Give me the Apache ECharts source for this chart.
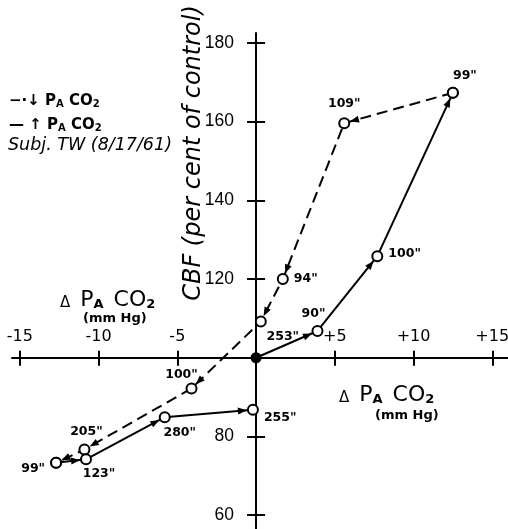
<!DOCTYPE html>
<html>
<head>
<meta charset="utf-8">
<script src="https://cdn.jsdelivr.net/npm/echarts@6/dist/echarts.min.js"></script>
<style>
html, body { margin: 0; padding: 0; background: #fff; }
#chart { width: 508px; height: 529px; }
</style>
</head>
<body>
<div id="chart"></div>
<script>
// rising PaCO2, first leg (from control point)
const upX1 = [0, 3.9, 7.7, 12.5];
const upY1 = [100, 106.8, 125.8, 167.3];
const upLab1 = ['', '90"', '100"', '99"'];

// falling PaCO2
const downX = [12.5, 5.6, 1.7, 0.3, -4.1, -10.9, -12.7];
const downY = [167.3, 159.6, 120, 109.2, 92.2, 76.7, 73.3];
const downLab = ['', '109"', '94"', '253"', '100"', '205"', '99"'];

// rising PaCO2, second leg
const upX2 = [-12.7, -10.8, -5.8, -0.2];
const upY2 = [73.3, 74.2, 84.9, 86.8];
const upLab2 = ['', '123"', '280"', '255"'];

// axis ticks / labels
const xTicks = [-15, -10, -5, 0, 5, 10, 15];
const xTickLabels = [-15, -10, -5, 5, 10, 15];
const yTicks = [60, 80, 100, 120, 140, 160, 180];
const yTickLabels = [60, 80, 120, 140, 160, 180];

// where each time label sits round its point
const upPlace1 = [null, ['top', [-4, 0]], ['right', [0, -2]], ['top', [12, 0]]];
const downPlace = [null, ['top', [0, -2]], ['right', [0, 0]], ['bottom', [22, -2]], ['top', [-10, 4]], ['top', [2, 0]], ['left', [0, 6]]];
const upPlace2 = [null, ['bottom', [13, -3]], ['bottom', [15, -2]], ['right', [0, 8]]];

const FONT = 'DejaVu Sans';
const X_MIN = -15.5, X_MAX = 16, Y_MIN = 56.5, Y_MAX = 182.5, CROSS_X = 0, CROSS_Y = 100;
const GRID = { left: 12, right: 0, top: 33, bottom: 0, outerBoundsMode: 'none', containLabel: false };

const chart = echarts.init(document.getElementById('chart'), null, { renderer: 'canvas' });
const gridH = chart.getHeight() - GRID.top - GRID.bottom;
const gridW = chart.getWidth() - GRID.left - GRID.right;
const xOffset = -(CROSS_Y - Y_MIN) / (Y_MAX - Y_MIN) * gridH;
const yOffset = -(CROSS_X - X_MIN) / (X_MAX - X_MIN) * gridW;

function pts(xs, ys, labs, place) {
  return xs.map((x, i) => {
    const d = { value: [x, ys[i]] };
    if (labs[i]) {
      d.label = { show: true, formatter: labs[i], position: place[i][0], offset: place[i][1] };
    }
    return d;
  });
}

function segs(xs, ys) {
  const s = [];
  for (let i = 0; i < xs.length - 1; i++) s.push([xs[i], ys[i], xs[i + 1], ys[i + 1]]);
  return s;
}

const ptLabel = { color: '#000', fontSize: 12.5, fontWeight: 'bold', fontFamily: FONT };

const up1Data = pts(upX1, upY1, upLab1, upPlace1);
up1Data[0].symbol = 'circle';
up1Data[0].symbolSize = 11;

function lineSeries(data, dashed) {
  return {
    type: 'line',
    data: data,
    symbol: 'emptyCircle',
    symbolSize: 10,
    showAllSymbol: true,
    lineStyle: { color: '#000', width: 2, type: dashed ? [11, 6] : 'solid' },
    itemStyle: { color: '#000', borderWidth: 1.8 },
    label: ptLabel,
    z: 3
  };
}

const arrowData = segs(upX1, upY1).concat(segs(downX, downY), segs(upX2, upY2));

const richP = {
  p: { fontSize: 15, fontFamily: FONT, fontWeight: 'bold', fill: '#000', verticalAlign: 'bottom' },
  a: { fontSize: 10, fontFamily: FONT, fontWeight: 'bold', fill: '#000', verticalAlign: 'bottom' },
  s: { fontSize: 15, fontFamily: FONT, fontWeight: 'bold', fill: '#000', verticalAlign: 'bottom' }
};
const richBig = {
  d: { fontSize: 15, fontFamily: FONT, fill: '#000', verticalAlign: 'bottom' },
  p: { fontSize: 22, fontFamily: FONT, fill: '#000', verticalAlign: 'bottom' },
  a: { fontSize: 13, fontFamily: FONT, fontWeight: 'bold', fill: '#000', verticalAlign: 'bottom' }
};

const option = {
  animation: false,
  backgroundColor: '#fff',
  grid: GRID,
  xAxis: [
    {
      type: 'value', min: X_MIN, max: X_MAX, position: 'bottom', offset: xOffset,
      axisLine: { onZero: false, lineStyle: { color: '#000', width: 2 } },
      axisTick: { customValues: xTicks, length: 8, lineStyle: { color: '#000', width: 2 } },
      axisLabel: {
        inside: true, customValues: xTickLabels, margin: 13,
        formatter: v => (v > 0 ? '+' + v : String(v)),
        color: '#000', fontSize: 16, fontFamily: FONT
      },
      splitLine: { show: false }
    },
    {
      type: 'value', min: X_MIN, max: X_MAX, position: 'bottom', offset: xOffset,
      axisLine: { show: false, onZero: false },
      axisTick: { customValues: xTicks, inside: true, length: 7, lineStyle: { color: '#000', width: 2 } },
      axisLabel: { show: false },
      splitLine: { show: false }
    }
  ],
  yAxis: [
    {
      type: 'value', min: Y_MIN, max: Y_MAX, position: 'left', offset: yOffset,
      axisLine: { onZero: false, lineStyle: { color: '#000', width: 2 } },
      axisTick: { customValues: yTicks, length: 9, lineStyle: { color: '#000', width: 2 } },
      axisLabel: { customValues: yTickLabels, margin: 22, color: '#000', fontSize: 17.5, fontFamily: 'Liberation Sans' },
      splitLine: { show: false }
    },
    {
      type: 'value', min: Y_MIN, max: Y_MAX, position: 'left', offset: yOffset,
      axisLine: { show: false, onZero: false },
      axisTick: { customValues: yTicks, inside: true, length: 9, lineStyle: { color: '#000', width: 2 } },
      axisLabel: { show: false },
      splitLine: { show: false }
    }
  ],
  series: [
    lineSeries(up1Data, false),
    lineSeries(pts(downX, downY, downLab, downPlace), true),
    lineSeries(pts(upX2, upY2, upLab2, upPlace2), false),
    {
      // arrowheads, one per leg, stopping short of the next circle
      type: 'custom',
      silent: true,
      z: 5,
      data: arrowData,
      encode: { x: [0, 2], y: [1, 3] },
      renderItem: function (params, api) {
        const a = api.coord([api.value(0), api.value(1)]);
        const b = api.coord([api.value(2), api.value(3)]);
        const dx = b[0] - a[0], dy = b[1] - a[1];
        const L = Math.hypot(dx, dy) || 1;
        const ux = dx / L, uy = dy / L;
        const tip = [b[0] - ux * 6, b[1] - uy * 6];
        const base = [tip[0] - ux * 9, tip[1] - uy * 9];
        const px = -uy, py = ux;
        return {
          type: 'polygon',
          shape: { points: [tip, [base[0] + px * 3.5, base[1] + py * 3.5], [base[0] - px * 3.5, base[1] - py * 3.5]] },
          style: { fill: '#000' }
        };
      }
    }
  ],
  graphic: [
    {
      type: 'text', x: 194, y: 153, rotation: Math.PI / 2,
      style: { text: 'CBF (per cent of control)', align: 'center', verticalAlign: 'middle',
        font: 'italic 24px ' + FONT, fill: '#000' }
    },
    {
      type: 'text', left: 9, top: 94,
      style: { text: '{s|−·↓ }{p|P}{a|A}{p| CO}{a|2}', rich: richP }
    },
    {
      type: 'text', left: 9, top: 118,
      style: { text: '{s|— ↑ }{p|P}{a|A}{p| CO}{a|2}', rich: richP }
    },
    {
      type: 'text', left: 8, top: 136,
      style: { text: 'Subj. TW (8/17/61)', font: 'italic 17.5px ' + FONT, fill: '#000' }
    },
    {
      type: 'text', left: 60, top: 289,
      style: { text: '{d|Δ}   {p|P}{a|A}   {p|CO}{a|2}', rich: richBig }
    },
    {
      type: 'text', left: 83, top: 312,
      style: { text: '(mm Hg)', font: 'bold 13px ' + FONT, fill: '#000' }
    },
    {
      type: 'text', left: 339, top: 384,
      style: { text: '{d|Δ}   {p|P}{a|A}   {p|CO}{a|2}', rich: richBig }
    },
    {
      type: 'text', left: 375, top: 409,
      style: { text: '(mm Hg)', font: 'bold 13px ' + FONT, fill: '#000' }
    }
  ]
};

chart.setOption(option);
</script>
</body>
</html>
